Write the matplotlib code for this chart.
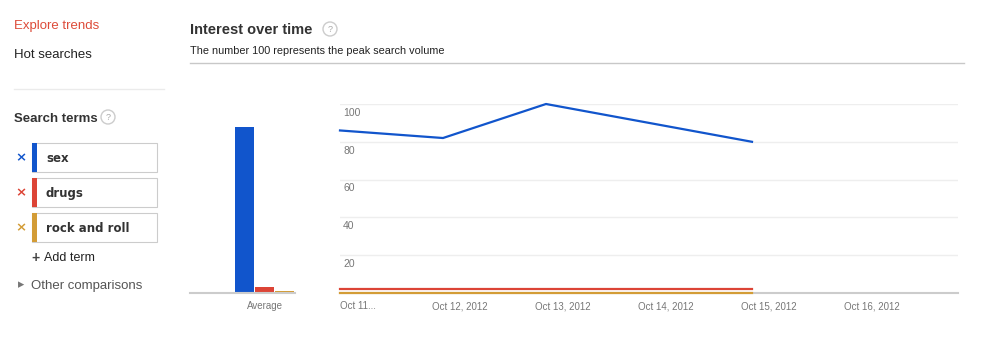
import matplotlib.pyplot as plt
from matplotlib.patches import Rectangle, Circle

plt.rcParams['font.family'] = ['Liberation Sans', 'DejaVu Sans']

# data
terms = ["sex", "drugs", "rock and roll"]
colors = ["#1155cc", "#dc4436", "#d39c36"]
averages = [88, 3, 1]
days = [0, 1, 2, 3, 4]
sex = [86, 82, 100, 90, 80]
drugs = [2, 2, 2, 2, 2]
rock = [0, 0, 0, 0, 0]
date_labels = ["Oct 11...", "Oct 12, 2012", "Oct 13, 2012", "Oct 14, 2012",
               "Oct 15, 2012", "Oct 16, 2012"]
yticks = [20, 40, 60, 80, 100]

W, H = 984, 351
fig = plt.figure(figsize=(W / 100, H / 100), dpi=100)


def box(x0, y0, x1, y1):
    # pixel box (top-left origin) -> figure fraction rect
    return [x0 / W, 1 - y1 / H, (x1 - x0) / W, (y1 - y0) / H]


# page layer in pixel coordinates
bg = fig.add_axes([0, 0, 1, 1])
bg.set_xlim(0, W)
bg.set_ylim(H, 0)
bg.axis("off")

bg.text(14, 26.5, "Explore trends", color="#dd4b39", fontsize=9.5, va="center")
bg.text(14, 54.5, "Hot searches", color="#222222", fontsize=9.5, va="center")
bg.plot([14, 164], [89, 89], color="#ebebeb", lw=1)
bg.text(14, 118.5, "Search terms", color="#333333", fontsize=9.5,
        fontweight="bold", va="center")
bg.add_patch(Circle((108, 117), 7, fill=False, ec="#cccccc", lw=1))
bg.text(108, 117.5, "?", color="#aaaaaa", fontsize=6.5, ha="center", va="center")

for i, (term, c) in enumerate(zip(terms, colors)):
    top = 143 + 35 * i
    bg.add_patch(Rectangle((32, top), 125, 29, fc="white", ec="#cccccc", lw=0.8))
    bg.add_patch(Rectangle((32, top), 5, 29, fc=c, ec="none"))
    bg.text(21, top + 14.5, "×", color=c, fontsize=9.5, fontweight="bold",
            family="DejaVu Sans", ha="center", va="center")
    bg.text(46, top + 15, term, color="#333333", fontsize=8.5,
            fontweight="bold", family="DejaVu Sans", va="center")

bg.text(31, 258, "+", color="#444444", fontsize=10, fontweight="bold", va="center")
bg.text(44, 258, "Add term", color="#222222", fontsize=9, va="center")
bg.text(18, 285, "▸", color="#777777", fontsize=9, va="center", family="DejaVu Sans")
bg.text(31, 285.5, "Other comparisons", color="#555555", fontsize=9.5, va="center")

bg.text(190, 29.5, "Interest over time", color="#333333", fontsize=10.5,
        fontweight="bold", va="center")
bg.add_patch(Circle((330, 29), 7, fill=False, ec="#cccccc", lw=1))
bg.text(330, 29.5, "?", color="#aaaaaa", fontsize=6.5, ha="center", va="center")
bg.text(190, 51, "The number 100 represents the peak search volume",
        color="#222222", fontsize=7.8, va="center")
bg.plot([190, 964], [63, 63], color="#c8c8c8", lw=1)

# average bars
axb = fig.add_axes(box(190, 104, 295, 293))
axb.bar(range(len(averages)), averages, width=0.95, color=colors)
axb.set_xlim(-2.725, 2.525)
axb.set_ylim(0, 100)
axb.set_xticks([1], ["Average"])
axb.set_yticks([])
axb.tick_params(axis="x", length=0, pad=6, labelsize=7, labelcolor="#777777")
for s in ["top", "left", "right"]:
    axb.spines[s].set_visible(False)
axb.spines["bottom"].set_color("#cccccc")
axb.spines["bottom"].set_linewidth(1.5)
axb.patch.set_alpha(0)

# interest over time
ax = fig.add_axes(box(340, 104, 958, 293))
ax.set_xlim(0, 6)
ax.set_ylim(0, 100)
for v in yticks:
    ax.axhline(v, color="#eeeeee", lw=1, zorder=0)
    ax.text(0.005, v - 2, str(v), transform=ax.get_yaxis_transform(),
            color="#777777", fontsize=7.5, va="top")
ax.plot(days, rock, color=colors[2], lw=1.6, clip_on=False, zorder=4)
ax.plot(days, drugs, color=colors[1], lw=1.6, clip_on=False, zorder=4)
ax.plot(days, sex, color=colors[0], lw=1.6, clip_on=False, zorder=4)
ax.set_xticks([0] + [i + 0.165 for i in range(1, 6)], date_labels)
ax.get_xticklabels()[0].set_horizontalalignment("left")
ax.set_yticks([])
ax.tick_params(axis="x", length=0, pad=6, labelsize=7, labelcolor="#777777")
for s in ["top", "left", "right"]:
    ax.spines[s].set_visible(False)
ax.spines["bottom"].set_color("#cccccc")
ax.spines["bottom"].set_linewidth(1.5)
ax.spines["bottom"].set_zorder(3)
ax.patch.set_alpha(0)

fig.savefig("out.png", dpi=100)
